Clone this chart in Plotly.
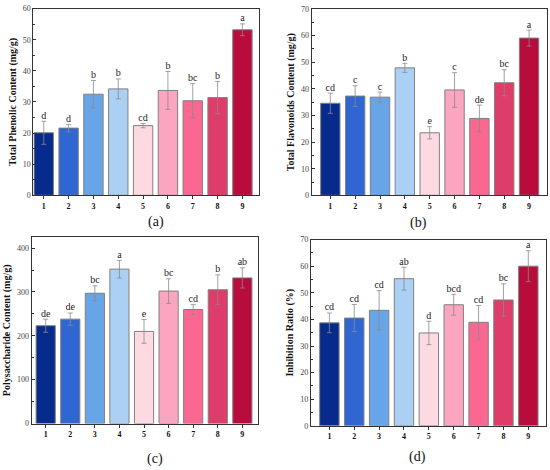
import plotly.graph_objects as go

# groups 1..9
groups = [1, 2, 3, 4, 5, 6, 7, 8, 9]
colors = ["#072b8d", "#3066d1", "#67a5e8", "#abd0f4", "#fdd9e2",
          "#fba5c0", "#fa6891", "#de3c69", "#b70c3c"]

# (a) total phenolic content
phenolic = [20.1, 21.6, 32.5, 34.2, 22.4, 33.7, 30.4, 31.4, 53.2]
phenolic_err = [3.7, 1.2, 4.4, 3.2, 0.7, 6.1, 5.5, 5.2, 1.9]
phenolic_lbl = ["d", "d", "b", "b", "cd", "b", "bc", "b", "a"]

# (b) total flavonoids content
flavonoids = [34.6, 37.3, 36.9, 47.9, 23.5, 39.6, 28.9, 42.3, 59.1]
flavonoids_err = [3.8, 3.9, 1.9, 1.7, 2.3, 6.5, 5.0, 4.9, 3.0]
flavonoids_lbl = ["cd", "c", "c", "b", "e", "c", "de", "bc", "a"]

# (c) polysaccharide content
polysacch = [223, 238, 297, 352, 210, 302, 260, 305, 332]
polysacch_err = [15, 14, 17, 20, 27, 28, 11, 34, 23]
polysacch_lbl = ["de", "de", "bc", "a", "e", "bc", "cd", "b", "ab"]

# (d) inhibition ratio
inhibition = [38.7, 40.5, 43.4, 55.3, 34.9, 45.5, 38.9, 47.3, 60.0]
inhibition_err = [3.7, 5.1, 7.4, 4.3, 4.4, 3.9, 6.3, 6.1, 5.8]
inhibition_lbl = ["cd", "cd", "cd", "ab", "d", "bcd", "cd", "bc", "a"]

FONT = "Liberation Serif, Times New Roman, serif"

panels = [
    # values, errors, letters, y title, y range, dtick, x range, x domain, y domain, caption, caption y
    (phenolic, phenolic_err, phenolic_lbl, "Total Phenolic Content (mg/g)",
     [0, 60], 10, [0.58, 9.67], [0.0606, 0.4710], [0.585, 0.990], "(a)", 0.528),
    (flavonoids, flavonoids_err, flavonoids_lbl, "Total Flavonoids Content (mg/g)",
     [0, 70], 10, [0.25, 9.71], [0.5667, 0.9940], [0.585, 0.989], "(b)", 0.526),
    (polysacch, polysacch_err, polysacch_lbl, "Polysaccharide Content (mg/g)",
     [0, 425], 100, [0.43, 9.65], [0.0576, 0.4697], [0.090, 0.4943], "(c)", 0.013),
    (inhibition, inhibition_err, inhibition_lbl, "Inhibition Ratio (%)",
     [0, 70], 10, [0.25, 9.70], [0.5650, 0.9922], [0.085, 0.489], "(d)", 0.017),
]

fig = go.Figure()
layout = {}
annotations = []

for i, (vals, errs, lbls, ytitle, yr, dt, xr, xd, yd, cap, cy) in enumerate(panels):
    n = "" if i == 0 else str(i + 1)
    xa, ya = "x" + n, "y" + n
    fig.add_trace(go.Bar(
        x=groups, y=vals, xaxis=xa, yaxis=ya,
        marker=dict(color=colors, line=dict(color="#808080", width=1)),
        error_y=dict(type="data", array=errs, color="#8a8a8a",
                     thickness=0.8, width=2.5),
        width=0.78, showlegend=False,
    ))
    # significance letters sit on top of the error bars
    fig.add_trace(go.Scatter(
        x=groups, y=[v + e for v, e in zip(vals, errs)], xaxis=xa, yaxis=ya,
        mode="text", text=lbls, textposition="top center",
        textfont=dict(family=FONT, size=10, color="#222"),
        showlegend=False, cliponaxis=False,
    ))
    layout["xaxis" + n] = dict(
        domain=xd, anchor=ya, range=xr, tickvals=groups,
        showline=True, linecolor="#333", linewidth=1, mirror=True,
        ticks="outside", ticklen=3, tickcolor="#333",
        tickfont=dict(family=FONT, size=8, color="#111", weight="bold"),
        showgrid=False, zeroline=False,
    )
    layout["yaxis" + n] = dict(
        domain=yd, anchor=xa, range=yr, dtick=dt,
        showline=True, linecolor="#333", linewidth=1, mirror=True,
        ticks="inside", ticklen=3, tickcolor="#333",
        minor=dict(ticks="inside", ticklen=2, dtick=dt / 2, tickcolor="#333"),
        tickfont=dict(family=FONT, size=8, color="#444"),
        title=dict(text="<b>" + ytitle + "</b>", standoff=4,
                   font=dict(family=FONT, size=10, color="#111")),
        showgrid=False, zeroline=False,
    )
    annotations.append(dict(
        text=cap, xref="paper", yref="paper",
        x=(xd[0] + xd[1]) / 2, y=cy, yanchor="middle",
        showarrow=False, font=dict(family=FONT, size=14, color="#111"),
    ))

fig.update_layout(
    width=550, height=470,
    margin=dict(l=0, r=0, t=0, b=0),
    paper_bgcolor="white", plot_bgcolor="white",
    annotations=annotations,
    **layout,
)

fig.write_html("out.html", config={"displayModeBar": False},
               post_script="document.body.style.margin='0';")
